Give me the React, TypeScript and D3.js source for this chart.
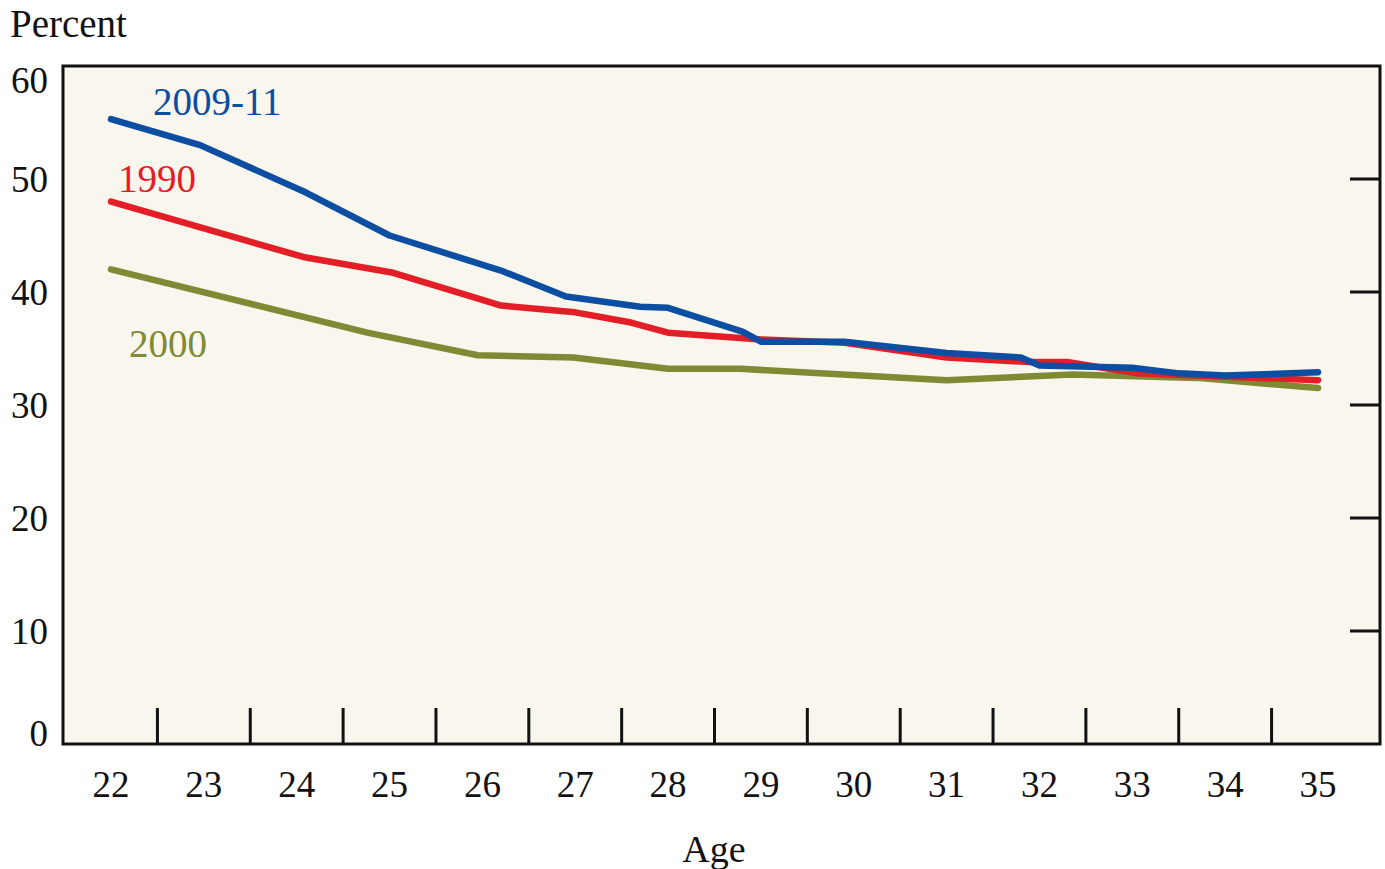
import React from 'react';
import * as d3 from 'd3';

const ages2009 = [22, 22.96, 24.1, 25.0, 26.2, 26.9, 27.7, 28.0, 28.8, 29.0, 29.9, 31.0, 31.8, 32.0, 33.0, 33.5, 34.0, 35];
const vals2009 = [55.3, 53.0, 48.8, 45.0, 41.9, 39.6, 38.7, 38.6, 36.5, 35.6, 35.6, 34.6, 34.2, 33.5, 33.3, 32.8, 32.6, 32.9];

const ages1990 = [22, 24.07, 25.04, 26.0, 26.2, 27.0, 27.6, 28.0, 29.0, 29.9, 31.0, 31.9, 32.3, 33.05, 35];
const vals1990 = [48.0, 43.1, 41.7, 39.3, 38.8, 38.2, 37.3, 36.4, 35.8, 35.5, 34.2, 33.8, 33.8, 32.8, 32.2];

const ages2000 = [22, 24.76, 25.95, 26.98, 28.0, 28.78, 31.0, 32.36, 33.7, 35];
const vals2000 = [42.0, 36.4, 34.4, 34.2, 33.2, 33.2, 32.2, 32.7, 32.4, 31.5];

const xTickLabels = [22, 23, 24, 25, 26, 27, 28, 29, 30, 31, 32, 33, 34, 35];
const yTickLabels = [0, 10, 20, 30, 40, 50, 60];

const FONT = '"Liberation Serif", "Times New Roman", serif';

export default function App() {
  const left = 63, right = 1380, top = 66, bottom = 744;
  const x = d3.scaleLinear().domain([22, 35]).range([111, 1318]);
  const y = d3.scaleLinear().domain([0, 60]).range([bottom, top]);

  const line = d3.line<[number, number]>()
    .x(d => x(d[0]))
    .y(d => y(d[1]));

  const series = [
    { name: '2009-11', color: '#0B4EA2', ages: ages2009, vals: vals2009, lx: 153, ly: 115 },
    { name: '1990', color: '#E31E26', ages: ages1990, vals: vals1990, lx: 118, ly: 192 },
    { name: '2000', color: '#7F8A35', ages: ages2000, vals: vals2000, lx: 129, ly: 357 },
  ];

  const halfTicks = xTickLabels.slice(0, -1).map(a => a + 0.5);

  return (
    <svg width={1385} height={869} style={{ position: 'absolute', left: 0, top: 0, background: '#fff' }}
      fontFamily={FONT}>
      <rect x={left} y={top} width={right - left} height={bottom - top} fill="#F9F6EE" />

      {series.slice().reverse().map(s => (
        <path key={s.name}
          d={line(s.ages.map((a, i) => [a, s.vals[i]] as [number, number])) || ''}
          fill="none" stroke={s.color} strokeWidth={6.5}
          strokeLinejoin="round" strokeLinecap="round" />
      ))}

      {series.map(s => (
        <text key={s.name} x={s.lx} y={s.ly} fill={s.color} fontSize={39}>{s.name}</text>
      ))}

      <rect x={left} y={top} width={right - left} height={bottom - top}
        fill="none" stroke="#111" strokeWidth={3} />

      {/* inward ticks on bottom, between age labels */}
      {halfTicks.map(t => (
        <line key={t} x1={x(t)} x2={x(t)} y1={bottom} y2={bottom - 36} stroke="#111" strokeWidth={3} />
      ))}
      {/* inward ticks on right */}
      {yTickLabels.filter(v => v > 0 && v < 60).map(v => (
        <line key={v} x1={right} x2={right - 30} y1={y(v)} y2={y(v)} stroke="#111" strokeWidth={3} />
      ))}

      {yTickLabels.map(v => (
        <text key={v} x={48} y={Math.max(80, Math.min(733, y(v)))} textAnchor="end"
          dominantBaseline="central" fontSize={37} fill="#111">{v}</text>
      ))}

      {xTickLabels.map(a => (
        <text key={a} x={x(a)} y={784} textAnchor="middle" dominantBaseline="central"
          fontSize={37} fill="#111">{a}</text>
      ))}

      <text x={10} y={37} fontSize={39} fill="#111">Percent</text>
      <text x={714} y={849} textAnchor="middle" dominantBaseline="central" fontSize={38} fill="#111">Age</text>
    </svg>
  );
}
